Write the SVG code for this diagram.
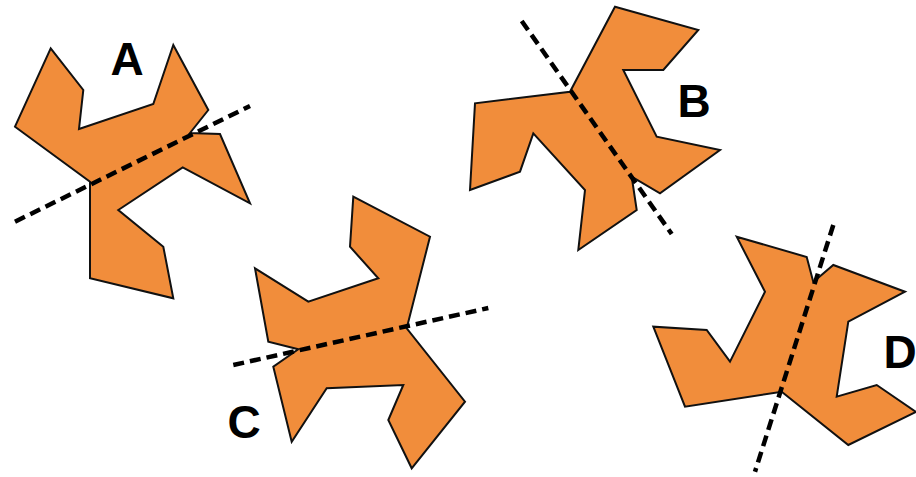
<svg xmlns="http://www.w3.org/2000/svg" width="916" height="477" viewBox="0 0 916 477">
<style>
.shape{fill:#F18D3B;stroke:#111;stroke-width:2;stroke-linejoin:miter}
.axis{stroke:#000;stroke-width:4.5;stroke-dasharray:11 6;fill:none}
.lbl{font-family:"Liberation Sans",Arial,sans-serif;font-weight:bold;font-size:46px;fill:#000;text-anchor:middle}
</style>
<rect width="916" height="477" fill="#fff"/>
<g id="shapeA">
<polygon class="shape" points="50.7,48.3 83.3,90 79,129 153.3,104 173.3,45 208.3,110 190,133 220,134 250,203.3 182.7,167.3 118.3,210 163.3,246.7 173.3,298.3 90,278.3 90,181.7 15,126.7"/>
<text class="lbl" x="127" y="75">A</text>
</g>
<g id="shapeB">
<polygon class="shape" points="615,6.7 698.3,30 663.3,70 623.3,70 656.7,136.7 720,150 660,193.3 631.7,176.7 636.7,210 578.3,250 585,190 533.3,133.3 520,171.7 470,190 475,103.3 570,91.7"/>
<text class="lbl" x="694" y="117">B</text>
</g>
<g id="shapeC">
<polygon class="shape" points="353.3,196.7 430,236.7 406.7,328.3 465,401.7 411.7,468.3 388.3,420 403.3,385 326.7,388.3 291.7,441.7 273.3,366.7 298.3,349.3 268.3,341.7 255,268.3 308.3,301.7 378.3,278.3 350,246.7"/>
<text class="lbl" x="244" y="438">C</text>
</g>
<g id="shapeD">
<polygon class="shape" points="736.7,236.7 806.7,257 813.3,282 833.3,265 905,291.7 848.3,321.7 836.7,396.7 876.7,385 916,412 848.3,445 781.7,391.7 685,406.7 653.3,326.7 706.7,330 730,361.7 765,291.7"/>
<text class="lbl" x="900" y="368">D</text>
</g>
<g id="connectors">
<line class="axis" x1="15" y1="221.7" x2="250" y2="106"/>
<line class="axis" x1="521.7" y1="21" x2="671.7" y2="234"/>
<line class="axis" x1="233.3" y1="365" x2="488.3" y2="308"/>
<line class="axis" x1="833.3" y1="225" x2="755" y2="471.7"/>
</g>
</svg>
